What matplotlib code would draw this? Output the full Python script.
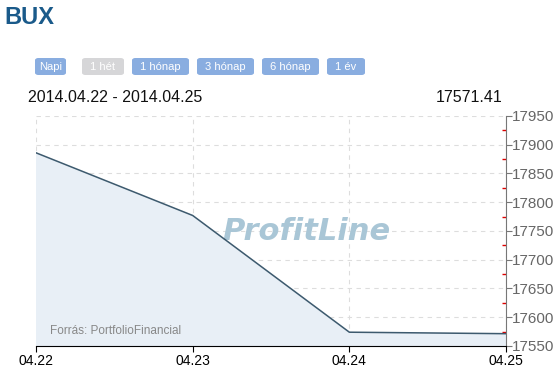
import matplotlib
matplotlib.use("Agg")
import matplotlib.pyplot as plt
from matplotlib.patches import FancyBboxPatch

dates = ["04.22", "04.23", "04.24", "04.25"]
values = [17886, 17777, 17574, 17571.41]
yticks = [17550, 17600, 17650, 17700, 17750, 17800, 17850, 17900, 17950]
buttons = ["Napi", "1 hét", "1 hónap", "3 hónap", "6 hónap", "1 év"]
button_x = [(35, 66), (82, 124), (132, 189), (197, 254), (262, 319), (327, 365)]

W, H = 558, 374
fig = plt.figure(figsize=(W / 100, H / 100), dpi=100)
plt.rcParams['font.family'] = ['Liberation Sans', 'DejaVu Sans']

L, R, T, B = 36, 506, 116, 346
ax = fig.add_axes([L / W, 1 - B / H, (R - L) / W, (B - T) / H])
x = list(range(len(dates)))
ax.fill_between(x, values, 17550, color="#e8eff6", zorder=1)
ax.plot(x, values, color="#3d5a6e", lw=1.1, zorder=3)
ax.set_xlim(0, 3)
ax.set_ylim(17550, 17950)
ax.set_xticks(x)
ax.set_xticklabels(dates)
ax.yaxis.tick_right()
ax.set_yticks(yticks)
ax.set_yticks([v + 25 for v in yticks[:-1]], minor=True)
ax.tick_params(axis="y", which="major", direction="out", length=4, color="#777777",
               labelsize=11, labelcolor="#666666", pad=0)
ax.tick_params(axis="y", which="minor", direction="in", length=3, color="#dd0000", width=1)
ax.tick_params(axis="x", which="major", direction="out", length=4, color="#000000",
               labelsize=10, labelcolor="#000000", pad=2)
for s in ["top", "left"]:
    ax.spines[s].set_visible(False)
ax.spines["right"].set_color("#777777")
ax.spines["bottom"].set_color("#000000")
ax.grid(True, which="major", color="#dddddd", ls=(0, (4, 4)), lw=0.8, zorder=0)
ax.set_axisbelow(True)
ax.text(0.03, 0.05, "Forrás: PortfolioFinancial", transform=ax.transAxes,
        fontsize=8.5, color="#888888", zorder=4)
ax.text(0.575, 0.5, "ProfitLine", transform=ax.transAxes, fontsize=22,
        family="DejaVu Sans", fontweight="bold", style="italic", color="#a9c6d6",
        ha="center", va="center", zorder=2)

# Header
fig.text(4 / W, 1 - 18 / H, "BUX", fontsize=17, fontweight="bold", color="#1a5a8a",
         ha="left", va="center")
for lab, (x0, x1) in zip(buttons, button_x):
    col = "#d6d6d8" if lab == "1 hét" else "#89ade0"
    p = FancyBboxPatch((x0 / W, 1 - 75 / H), (x1 - x0) / W, 17 / H,
                       boxstyle="round,pad=0,rounding_size=0.006",
                       transform=fig.transFigure, fc=col, ec="none")
    fig.add_artist(p)
    fig.text((x0 + x1) / 2 / W, 1 - 66.5 / H, lab, fontsize=8, color="white",
             ha="center", va="center")
fig.text(28 / W, 1 - 97 / H, "2014.04.22 - 2014.04.25", fontsize=11.5, color="#111111",
         ha="left", va="center")
fig.text(502 / W, 1 - 97 / H, f"{values[-1]:.2f}", fontsize=11.5, color="#111111",
         ha="right", va="center")

fig.savefig("out.png", dpi=100)
